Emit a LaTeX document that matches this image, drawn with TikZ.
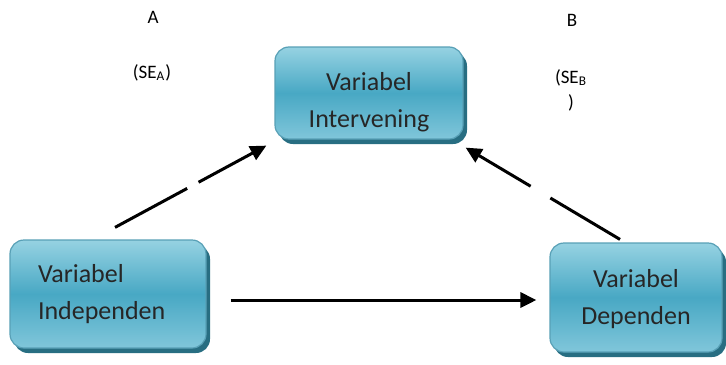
\documentclass[tikz,border=0pt]{standalone}
\usepackage{fontspec}
\setmainfont{Carlito}
\usetikzlibrary{arrows.meta,shadows}

\definecolor{boxtop}{RGB}{150,210,226}
\definecolor{boxmid}{RGB}{72,168,196}
\definecolor{boxbot}{RGB}{128,198,218}
\definecolor{boxline}{RGB}{88,160,182}
\definecolor{boxshadow}{RGB}{40,110,130}

\tikzset{varbox/.style={draw=boxline,line width=0.6pt,rounded corners=7pt,
           top color=boxtop,bottom color=boxbot,middle color=boxmid,
           drop shadow={shadow xshift=2pt,shadow yshift=-2.5pt,fill=boxshadow,opacity=1},
           font=\fontsize{13}{18.5}\selectfont,text=black!85,align=center},
         link/.style={line width=1.5pt,-{Triangle[length=8pt,width=7.5pt]}},
         coef/.style={font=\fontsize{9.5}{12}\selectfont}}

\begin{document}
\begin{tikzpicture}[x=0.5pt,y=-0.5pt]
  \useasboundingbox (0,0) rectangle (726,364);
  % the three variables
  \node[varbox,minimum width=98pt,minimum height=54pt,text width=70pt,
        inner xsep=14pt,align=left] (ind) at (108,294) {Variabel\\Independen};
  \node[varbox,minimum width=94pt,minimum height=46pt,inner ysep=0pt,
        text height=37pt,text depth=3pt] (inter) at (369,93) {Variabel\\Intervening};
  \node[varbox,minimum width=86pt,minimum height=54.5pt,inner ysep=0pt,
        text height=30pt,text depth=3pt] (dep) at (636,297.5) {Variabel\\Dependen};
  % paths
  \draw[link,dash pattern=on 41pt off 6.5pt on 200pt]
    ([shift={(7,-12)}]ind.north) -- ([shift={(-8,6)}]inter.south west);
  \draw[link,dash pattern=on 40.5pt off 11.5pt on 200pt]
    ([shift={(-16,-3)}]dep.north) -- ([shift={(2,8)}]inter.south east);
  \draw[link] ([shift={(24,6)}]ind.east) -- ([shift={(-13,2.5)}]dep.west);
  % coefficients
  \node[coef] (ca) at (153,17) {A};
  \node[coef] (sea) at (152,73) {(SE\textsubscript{A})};
  \node[coef] (cb) at (572,20) {B};
  \node[coef] (seb) at (571,78) {(SE\textsubscript{B}};
  \node[coef] (sebc) at (571,103) {)};
\end{tikzpicture}
\end{document}
